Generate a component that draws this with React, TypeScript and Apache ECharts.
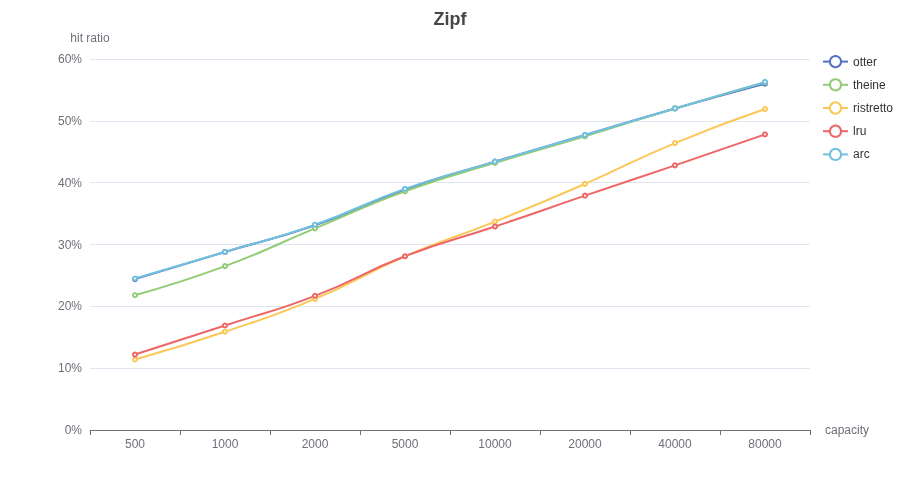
import React, { useEffect, useRef } from "react";
import * as echarts from "echarts";

const capacities = ["500", "1000", "2000", "5000", "10000", "20000", "40000", "80000"];
const otter = [24.4, 28.8, 33.1, 38.9, 43.4, 47.7, 52.0, 56.0];
const theine = [21.8, 26.5, 32.6, 38.6, 43.2, 47.5, 52.0, 56.2];
const ristretto = [11.4, 15.9, 21.2, 28.1, 33.7, 39.8, 46.4, 51.9];
const lru = [12.2, 16.9, 21.7, 28.1, 32.9, 37.9, 42.8, 47.8];
const arc = [24.5, 28.8, 33.2, 39.0, 43.4, 47.7, 52.0, 56.3];
const yTicks = [0, 10, 20, 30, 40, 50, 60];
const colors = ["#5470c6", "#91cc75", "#fac858", "#ee6666", "#73c0de"];

export default function App() {
  const ref = useRef<HTMLDivElement>(null);
  useEffect(() => {
    if (!ref.current) return;
    const chart = echarts.init(ref.current, null, { renderer: "svg" });
    const mk = (name: string, data: number[]) => ({
      name,
      type: "line",
      smooth: true,
      symbol: "emptyCircle",
      symbolSize: 4,
      lineStyle: { width: 2 },
      data,
    });
    const axisColor = "#6E7079";
    chart.setOption({
      animation: false,
      color: colors,
      textStyle: { fontFamily: "sans-serif" },
      title: {
        text: "Zipf",
        left: "center",
        top: 5,
        textStyle: { fontSize: 18, fontWeight: "bold", color: "#464646" },
      },
      legend: {
        orient: "vertical",
        right: 2,
        top: 50,
        itemGap: 10,
        textStyle: { color: "#333" },
        data: ["otter", "theine", "ristretto", "lru", "arc"],
      },
      grid: { left: 90, right: 90, top: 59, bottom: 70 },
      xAxis: {
        type: "category",
        data: capacities,
        name: "capacity",
        boundaryGap: true,
        nameTextStyle: { color: axisColor },
        axisLine: { lineStyle: { color: axisColor } },
        axisTick: { show: true, lineStyle: { color: axisColor } },
        axisLabel: { color: axisColor },
      },
      yAxis: {
        type: "value",
        name: "hit ratio",
        min: yTicks[0],
        max: yTicks[yTicks.length - 1],
        interval: 10,
        nameTextStyle: { color: axisColor },
        axisLabel: { formatter: "{value}%", color: axisColor },
        splitLine: { lineStyle: { color: "#E0E6F1" } },
      },
      series: [
        mk("otter", otter),
        mk("theine", theine),
        mk("ristretto", ristretto),
        mk("lru", lru),
        mk("arc", arc),
      ],
    });
    return () => chart.dispose();
  }, []);
  return (
    <div
      ref={ref}
      style={{ position: "fixed", left: 0, top: 0, width: 900, height: 500 }}
    />
  );
}
